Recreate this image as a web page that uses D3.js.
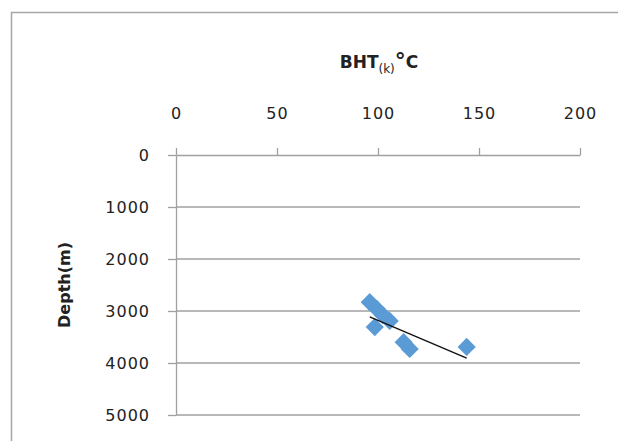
<!DOCTYPE html>
<html>
<head>
<meta charset="utf-8">
<script src="https://cdn.jsdelivr.net/npm/d3@7"></script>
<style>
	body { margin: 0; background: #fff; }
	text { font-family: "DejaVu Sans", Verdana, sans-serif; fill: #222; }
</style>
</head>
<body>
<div id="diagram"></div>
<script>
// BHT (deg C) against depth (m)
const bht = [95.9, 99.4, 102.4, 105.8, 98.4, 112.7, 115.7, 143.9];
const depth = [2830, 2960, 3080, 3190, 3310, 3600, 3730, 3690];

// excel style linear trendline, two ends
const trendX = [95.9, 143.9];
const trendY = [3115, 3905];

const xTicks = [0, 50, 100, 150, 200];
const yTicks = [0, 1000, 2000, 3000, 4000, 5000];

const width = 618;
const height = 441;
const plotLeft = 176, plotRight = 580, plotTop = 155, plotBottom = 415;

const xScale = d3.scaleLinear().domain([0, 200]).range([plotLeft, plotRight]);
const yScale = d3.scaleLinear().domain([0, 5000]).range([plotTop, plotBottom]);

var svg = d3.select("#diagram")
	.append("svg")
	.attr("width", width)
	.attr("height", height);

// chart frame, runs off the picture on right and bottom
svg.append("rect")
	.attr("x", 11.5).attr("y", 12.5)
	.attr("width", 700).attr("height", 500)
	.attr("fill", "#fff")
	.attr("stroke", "#a6a6a6")
	.attr("stroke-width", 1.5);

// horizontal gridlines
svg.selectAll("line.grid")
	.data(yTicks.slice(1))
	.enter()
	.append("line")
	.attr("class", "grid")
	.attr("x1", plotLeft).attr("x2", plotRight)
	.attr("y1", d => yScale(d)).attr("y2", d => yScale(d))
	.attr("stroke", "#a0a0a0")
	.attr("stroke-width", 1.3);

// top axis
const xAxis = d3.axisTop(xScale).tickValues(xTicks).tickFormat(d3.format("d"))
	.tickSize(7).tickSizeOuter(0).tickPadding(35);
const gx = svg.append("g").attr("transform", `translate(0,${plotTop})`).call(xAxis);

// left axis
const yAxis = d3.axisLeft(yScale).tickValues(yTicks).tickFormat(d3.format("d"))
	.tickSize(8).tickSizeOuter(0).tickPadding(18);
const gy = svg.append("g").attr("transform", `translate(${plotLeft},0)`).call(yAxis);

[gx, gy].forEach(g => {
	g.selectAll("path, line").attr("stroke", "#a0a0a0").attr("stroke-width", 1.3);
	g.selectAll("text")
		.attr("font-family", "DejaVu Sans, sans-serif")
		.attr("font-size", "16px")
		.attr("letter-spacing", "1px")
		.attr("fill", "#262626");
});
gx.selectAll("text").attr("dy", "0.35em");
gy.selectAll("text").attr("dy", "0.35em");

// axis titles
const title = svg.append("text")
	.attr("x", 379).attr("y", 68)
	.attr("text-anchor", "middle")
	.attr("font-size", "17px")
	.attr("font-weight", "bold");
title.append("tspan").text("BHT");
title.append("tspan").text("(k)").attr("font-size", "12px").attr("font-weight", "normal").attr("dy", 5);
title.append("tspan").text("°").attr("dy", -5).attr("font-size", "22px");
title.append("tspan").text("C");

svg.append("text")
	.attr("transform", `translate(70,${(plotTop + plotBottom) / 2}) rotate(-90)`)
	.attr("text-anchor", "middle")
	.attr("font-size", "16px")
	.attr("font-weight", "bold")
	.text("Depth(m)");

// points
const diamond = d3.symbol().type(d3.symbolSquare).size(165);
svg.selectAll("path.pt")
	.data(bht)
	.enter()
	.append("path")
	.attr("class", "pt")
	.attr("d", diamond)
	.attr("transform", (d, i) => `translate(${xScale(d)},${yScale(depth[i])}) rotate(45)`)
	.attr("fill", "#5b9bd5");

// trendline
svg.append("line")
	.attr("x1", xScale(trendX[0])).attr("y1", yScale(trendY[0]))
	.attr("x2", xScale(trendX[1])).attr("y2", yScale(trendY[1]))
	.attr("stroke", "#111")
	.attr("stroke-width", 1.4);
</script>
</body>
</html>
